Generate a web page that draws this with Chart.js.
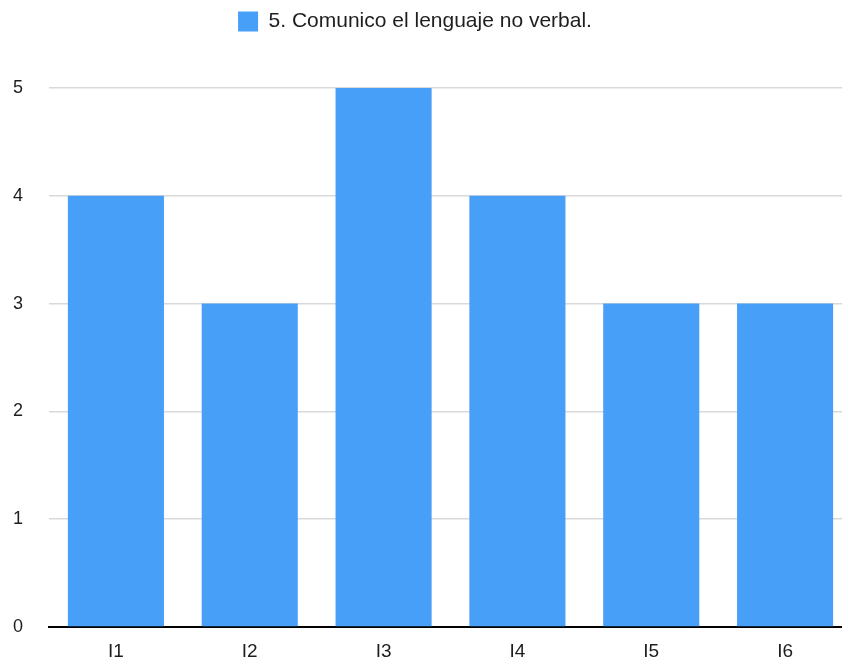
<!DOCTYPE html>
<html>
<head>
<meta charset="utf-8">
<script src="https://cdn.jsdelivr.net/npm/chart.js@4"></script>
<style>
  html, body { margin: 0; padding: 0; background: #fff; }
  #wrap { width: 842px; height: 664px; overflow: hidden; }
  #box { width: 852px; height: 664px; }
</style>
</head>
<body>
<div id="wrap"><div id="box"><canvas id="chart"></canvas></div></div>
<script>
const categories = ['I1', 'I2', 'I3', 'I4', 'I5', 'I6'];
const seriesName = '5. Comunico el lenguaje no verbal.';
const seriesValues = [4, 3, 5, 4, 3, 3];
const yTicks = [0, 1, 2, 3, 4, 5];

const blue = 'rgb(72, 159, 248)';
const font = "'Liberation Sans', Arial, Helvetica, sans-serif";

// reserve a fixed band above the plot for the legend and nudge it left a bit
const legendBand = {
  id: 'legendBand',
  beforeLayout(chart) {
    const lg = chart.legend;
    if (!lg || lg._patched) return;
    const fit = lg.fit;
    lg.fit = function () { fit.call(this); this.height = 88; };
    lg._patched = true;
  },
  afterLayout(chart) {
    chart.legend.left -= 11;
    chart.legend.right -= 11;
  }
};

new Chart(document.getElementById('chart'), {
  type: 'bar',
  data: {
    labels: categories,
    datasets: [{
      label: seriesName,
      data: seriesValues,
      backgroundColor: blue,
      borderWidth: 0,
      categoryPercentage: 1,
      barPercentage: 0.718
    }]
  },
  plugins: [legendBand],
  options: {
    responsive: true,
    maintainAspectRatio: false,
    animation: false,
    layout: { padding: 0 },
    plugins: {
      tooltip: { enabled: false },
      legend: {
        display: true,
        position: 'top',
        labels: {
          boxWidth: 20,
          boxHeight: 20,
          padding: 11,
          color: '#1e1e1e',
          font: { family: font, size: 21 }
        }
      }
    },
    scales: {
      x: {
        afterFit: s => { s.height = 37; },
        grid: { display: false, drawTicks: false },
        border: { display: true, color: '#000', width: 2 },
        ticks: { color: '#1e1e1e', padding: 13, font: { family: font, size: 19 } }
      },
      y: {
        min: 0,
        max: 5,
        afterFit: s => { s.width = 49; },
        afterBuildTicks: s => { s.ticks = yTicks.map(v => ({ value: v })); },
        grid: { color: '#d9d9d9', lineWidth: 1.5, drawTicks: false },
        border: { display: false },
        ticks: { color: '#1e1e1e', padding: 26, font: { family: font, size: 18 } }
      }
    }
  }
});
</script>
</body>
</html>
